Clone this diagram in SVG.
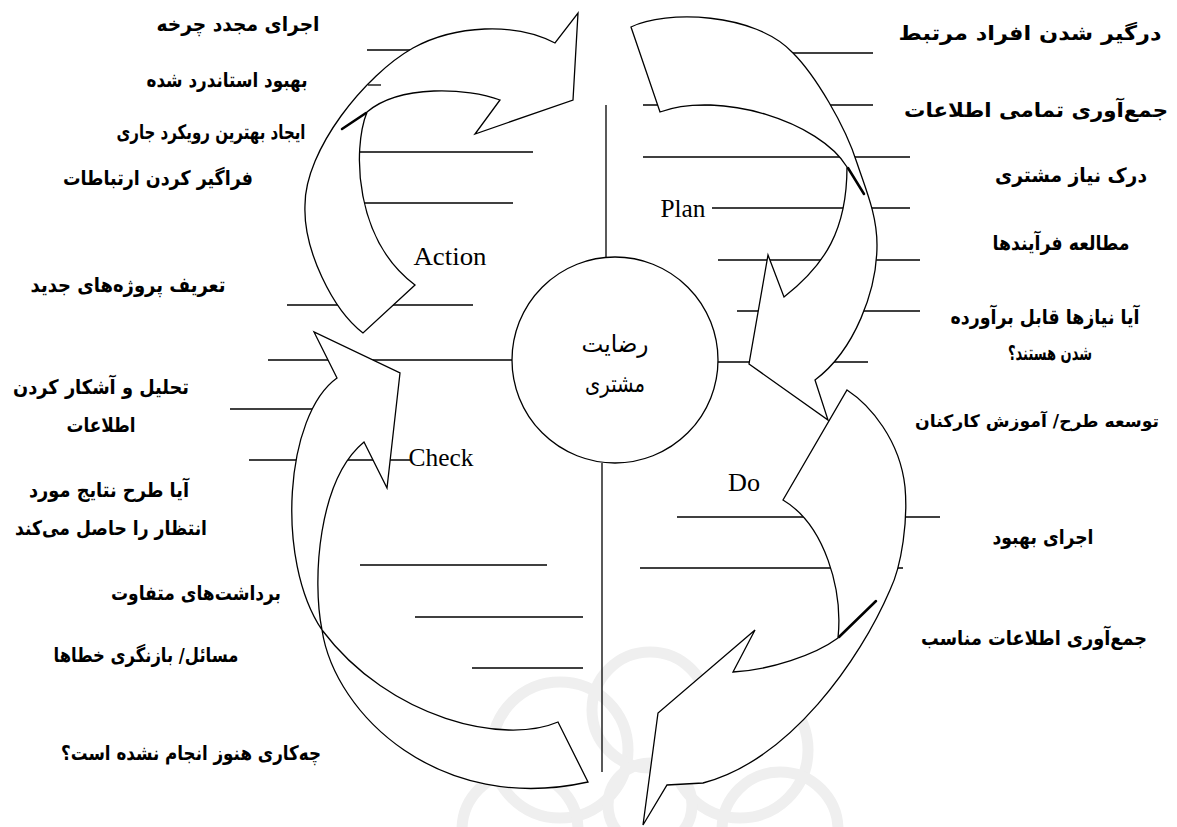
<svg xmlns="http://www.w3.org/2000/svg" width="1177" height="827" viewBox="0 0 1177 827">
<style>
.ln{stroke:#000;stroke-width:1.3;fill:none}
.ar{fill:#fff;stroke:#000;stroke-width:1.3;stroke-linejoin:miter}
.fold{stroke:#000;stroke-width:2.5;stroke-linecap:round}
.fa{font-family:"DejaVu Sans",sans-serif;font-weight:bold;font-size:20px;text-anchor:middle;direction:rtl;unicode-bidi:embed;fill:#000}
.fc{font-family:"DejaVu Sans",sans-serif;font-size:24px;text-anchor:middle;direction:rtl;unicode-bidi:embed;fill:#000}
.en{font-family:"Liberation Serif",serif;font-size:26px;fill:#000}
.wm{fill:none;stroke:#efefef;stroke-width:11}
</style>
<rect width="1177" height="827" fill="#fff"/>
<g id="watermark">
<circle class="wm" cx="560" cy="750" r="68"/>
<circle class="wm" cx="740" cy="750" r="68"/>
<circle class="wm" cx="650" cy="710" r="58"/>
<circle class="wm" cx="520" cy="830" r="58"/>
<circle class="wm" cx="780" cy="830" r="58"/>
<circle class="wm" cx="650" cy="805" r="42"/>
</g>
<g id="connectors">
<line class="ln" x1="606" y1="105" x2="606" y2="258"/>
<line class="ln" x1="602" y1="463" x2="602" y2="772"/>
<line class="ln" x1="268" y1="360" x2="512" y2="360"/>
<line class="ln" x1="718" y1="362" x2="868" y2="362"/>
<line class="ln" x1="367" y1="50" x2="420" y2="50"/>
<line class="ln" x1="355" y1="152" x2="533" y2="152"/>
<line class="ln" x1="355" y1="203" x2="513" y2="203"/>
<line class="ln" x1="287" y1="305" x2="473" y2="305"/>
<line class="ln" x1="230" y1="409" x2="320" y2="409"/>
<line class="ln" x1="249" y1="460" x2="410" y2="460"/>
<line class="ln" x1="360" y1="565" x2="547" y2="565"/>
<line class="ln" x1="415" y1="617" x2="583" y2="617"/>
<line class="ln" x1="472" y1="668" x2="583" y2="668"/>
<line class="ln" x1="780" y1="53" x2="873" y2="53"/>
<line class="ln" x1="643" y1="105" x2="873" y2="105"/>
<line class="ln" x1="643" y1="157" x2="910" y2="157"/>
<line class="ln" x1="712" y1="208" x2="910" y2="208"/>
<line class="ln" x1="718" y1="260" x2="920" y2="260"/>
<line class="ln" x1="737" y1="311" x2="920" y2="311"/>
<line class="ln" x1="677" y1="517" x2="940" y2="517"/>
<line class="ln" x1="640" y1="568" x2="903" y2="568"/>
</g>
<g id="action">
<path class="ar" d="M363,333 C333,310 303,250 305,205 C305,150 365,75 413,48 C455,25 515,22 555,43 L578,13 L573,100 L475,134 L500,100 C468,88 400,84 367,112 C352,150 355,240 415,285 Z"/>
<line class="fold" x1="366" y1="113" x2="342" y2="129"/>
<line class="ln" x1="368" y1="85" x2="381" y2="85"/>
<text class="en" x="450" y="265" text-anchor="middle" textLength="73" lengthAdjust="spacingAndGlyphs">Action</text>
</g>
<g id="plan">
<path class="ar" d="M631,27 C665,10 755,12 793,53 C815,75 845,125 857,163 C866,190 877,215 877,245 C877,290 855,350 815,380 L828,420 L749,364 L768,255 L784,297 C825,265 847,230 847,167 C820,122 720,90 660,112 Z"/>
<line class="fold" x1="848" y1="168" x2="864" y2="194"/>
<text class="en" x="683" y="217" text-anchor="middle" textLength="45" lengthAdjust="spacingAndGlyphs">Plan</text>
</g>
<g id="do">
<path class="ar" d="M847,390 C870,405 900,440 905,487 C908,520 902,565 890,590 C860,660 790,760 703,783 L667,785 L643,825 L658,713 L755,630 L733,672 C770,670 815,655 838,638 C843,590 825,525 783,500 Z"/>
<line class="fold" x1="839" y1="637" x2="876" y2="601"/>
<text class="en" x="744" y="491" text-anchor="middle" textLength="32" lengthAdjust="spacingAndGlyphs">Do</text>
</g>
<g id="check">
<path class="ar" d="M337,378 C285,415 275,560 322,630 C335,715 440,815 588,782 L558,722 C505,745 390,720 322,630 C312,580 318,480 364,442 L387,488 L400,373 L314,332 Z"/>
<text class="en" x="441" y="466" text-anchor="middle" textLength="65" lengthAdjust="spacingAndGlyphs">Check</text>
</g>
<g id="center">
<circle cx="615" cy="360" r="103" fill="#fff" stroke="#000" stroke-width="1.3"/>
<text class="fc" x="615" y="352" textLength="67" lengthAdjust="spacingAndGlyphs">رضایت</text>
<text class="fc" x="615" y="392" textLength="60" lengthAdjust="spacingAndGlyphs">مشتری</text>
</g>
<g id="labels-left">
<text class="fa" x="238" y="31" textLength="163" lengthAdjust="spacingAndGlyphs">اجرای مجدد چرخه</text>
<text class="fa" x="227" y="87" textLength="161" lengthAdjust="spacingAndGlyphs">بهبود استاندرد شده</text>
<text class="fa" x="211" y="139" textLength="189" lengthAdjust="spacingAndGlyphs">ایجاد بهترین رویکرد جاری</text>
<text class="fa" x="158" y="185" textLength="190" lengthAdjust="spacingAndGlyphs">فراگیر کردن ارتباطات</text>
<text class="fa" x="128" y="292" textLength="195" lengthAdjust="spacingAndGlyphs">تعریف پروژه‌های جدید</text>
<text class="fa" x="101" y="394" textLength="176" lengthAdjust="spacingAndGlyphs">تحلیل و آشکار کردن</text>
<text class="fa" x="101" y="432" textLength="69" lengthAdjust="spacingAndGlyphs">اطلاعات</text>
<text class="fa" x="109" y="497" textLength="160" lengthAdjust="spacingAndGlyphs">آیا طرح نتایج مورد</text>
<text class="fa" x="111" y="535" textLength="192" lengthAdjust="spacingAndGlyphs">انتظار را حاصل می‌کند</text>
<text class="fa" x="196" y="600" textLength="170" lengthAdjust="spacingAndGlyphs">برداشت‌های متفاوت</text>
<text class="fa" x="146" y="662" textLength="185" lengthAdjust="spacingAndGlyphs">مسائل/ بازنگری خطاها</text>
<text class="fa" x="191" y="760" textLength="260" lengthAdjust="spacingAndGlyphs">چه‌کاری هنوز انجام نشده است؟</text>
</g>
<g id="labels-right">
<text class="fa" x="1030" y="40" textLength="263" lengthAdjust="spacingAndGlyphs">درگیر شدن افراد مرتبط</text>
<text class="fa" x="1036" y="117" textLength="264" lengthAdjust="spacingAndGlyphs">جمع‌آوری تمامی اطلاعات</text>
<text class="fa" x="1071" y="182" textLength="152" lengthAdjust="spacingAndGlyphs">درک نیاز مشتری</text>
<text class="fa" x="1061" y="250" textLength="137" lengthAdjust="spacingAndGlyphs">مطالعه فرآیندها</text>
<text class="fa" x="1045" y="324" textLength="189" lengthAdjust="spacingAndGlyphs">آیا نیازها قابل برآورده</text>
<text class="fa" x="1050" y="360" textLength="84" lengthAdjust="spacingAndGlyphs">شدن هستند؟</text>
<text class="fa" x="1037" y="427" style="font-size:17px" textLength="244" lengthAdjust="spacingAndGlyphs">توسعه طرح/ آموزش کارکنان</text>
<text class="fa" x="1043" y="544" textLength="101" lengthAdjust="spacingAndGlyphs">اجرای بهبود</text>
<text class="fa" x="1034" y="645" textLength="226" lengthAdjust="spacingAndGlyphs">جمع‌آوری اطلاعات مناسب</text>
</g>
</svg>
